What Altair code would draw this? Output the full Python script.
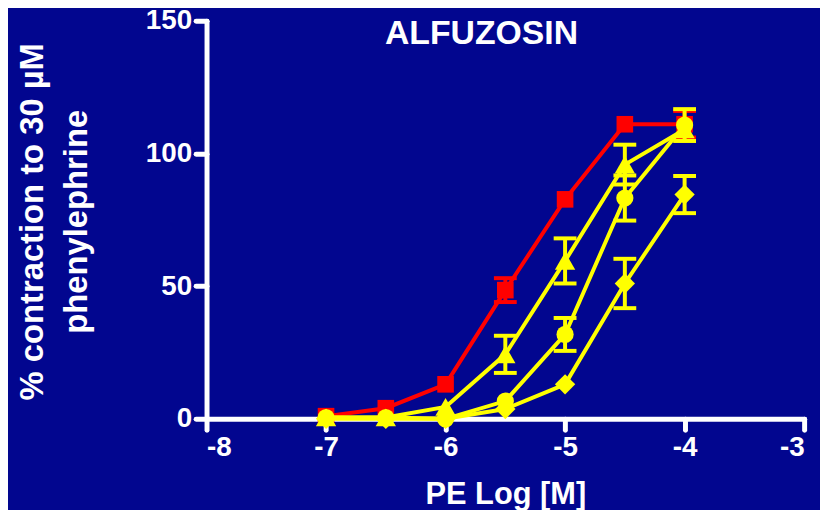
import altair as alt
import pandas as pd

# ---- data ----
log_pe = [-7, -6.5, -6, -5.5, -5, -4.5, -4]

control_mean = [1.0, 4.0, 13.0, 48.5, 82.7, 111.0, 111.0]
control_sem = [0, 0, 0, 4.5, 0, 0, 5.0]

tri_mean = [0.5, 0.5, 4.5, 24.3, 59.5, 95.8, 109.0]
tri_sem = [0, 0, 0, 7.0, 8.5, 7.5, 0]

circ_mean = [0.5, 0.5, 0.0, 6.7, 31.8, 83.2, 110.7]
circ_sem = [0, 0, 0, 0, 6.2, 8.5, 6.0]

diam_mean = [0.0, 0.0, 0.0, 3.7, 13.0, 51.0, 84.5]
diam_sem = [0, 0, 0, 0, 0, 9.3, 7.0]

series = [
    ("control", control_mean, control_sem, "#FF0000", "square", 280),
    ("triangle", tri_mean, tri_sem, "#FFFF00", "triangle-up", 420),
    ("circle", circ_mean, circ_sem, "#FFFF00", "circle", 300),
    ("diamond", diam_mean, diam_sem, "#FFFF00", "diamond", 420),
]

title_text = "ALFUZOSIN"
x_title = "PE Log [M]"
y_title = ["% contraction to 30 µM", "phenylephrine"]

x_ticks = [-8, -7, -6, -5, -4, -3]
y_ticks = [0, 50, 100, 150]

FONT = "Liberation Sans"
BG = "#02068F"

x_enc = alt.X(
    "x:Q",
    scale=alt.Scale(domain=[-8, -3], nice=False),
    axis=alt.Axis(
        values=x_ticks,
        labelExpr="'' + datum.value",
        title=x_title,
        titleX=301,
        titleY=85,
        titleBaseline="alphabetic",
        titleFontSize=31,
        labelFontSize=28,
        labelPadding=4,
    ),
)
y_enc = alt.Y(
    "y:Q",
    scale=alt.Scale(domain=[0, 150], nice=False),
    axis=alt.Axis(
        values=y_ticks,
        title=y_title,
        titleX=-165,
        titleY=202,
        titleAngle=270,
        titleAlign="center",
        titleBaseline="alphabetic",
        titleLineHeight=44,
        titleFontSize=33,
        labelFontSize=28,
        labelPadding=4,
    ),
)

layers = []
for name, mean, sem, color, shape, size in series:
    df = pd.DataFrame({"x": log_pe, "y": mean, "sem": sem})
    df["lo"] = df["y"] - df["sem"]
    df["hi"] = df["y"] + df["sem"]
    err = df[df["sem"] > 0]
    caps = pd.concat(
        [err.assign(cap=err["lo"]), err.assign(cap=err["hi"])], ignore_index=True
    )

    line = alt.Chart(df).mark_line(color=color, strokeWidth=4).encode(x=x_enc, y=y_enc)
    rule = alt.Chart(err).mark_rule(color=color, strokeWidth=4).encode(
        x="x:Q", y="lo:Q", y2="hi:Q"
    )
    cap = alt.Chart(caps).mark_tick(
        color=color, orient="horizontal", size=23, thickness=4, opacity=1
    ).encode(x="x:Q", y="cap:Q")
    pts = alt.Chart(df).mark_point(
        shape=shape, size=size, filled=True, color=color, opacity=1
    ).encode(x="x:Q", y="y:Q")
    layers += [line, rule, cap, pts]

# chart heading, drawn inside the plot frame as in the reference
heading = alt.Chart(pd.DataFrame({"t": [title_text]})).mark_text(
    font=FONT, fontSize=34, fontWeight="bold", color="white",
    align="center", baseline="alphabetic",
).encode(text="t:N", x=alt.value(277), y=alt.value(23))
layers.append(heading)

chart = (
    alt.layer(*layers)
    .properties(
        width=602,
        height=401,
        autosize=alt.AutoSizeParams(type="none"),
        padding={"left": 200, "top": 11, "right": 16, "bottom": 90},
    )
    .configure(background=BG, font=FONT)
    .configure_view(stroke=None)
    .configure_axis(
        grid=False,
        domainColor="white",
        domainWidth=5,
        domainCap="round",
        tickColor="white",
        tickWidth=5,
        tickSize=11,
        tickCap="round",
        labelColor="white",
        labelFont=FONT,
        labelFontWeight="bold",
        titleColor="white",
        titleFont=FONT,
        titleFontWeight="bold",
        zindex=1,
    )
)

chart.save("out.html", embed_options={"renderer": "svg", "actions": False})
